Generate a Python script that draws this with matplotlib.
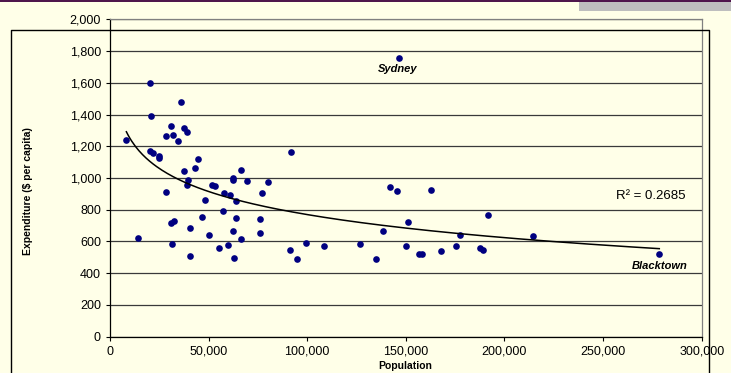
import numpy as np
import matplotlib
matplotlib.use("Agg")
from matplotlib import pyplot as plt
from matplotlib.lines import Line2D
from matplotlib.patches import Rectangle
from matplotlib.ticker import FuncFormatter, MultipleLocator

plt.rcParams["font.family"] = ["Liberation Sans", "DejaVu Sans"]

# council population vs expenditure ($ per capita)
population = [
    20300, 35800, 21000, 30700, 37500, 39200, 28200, 32100, 34300, 8300,
    20300, 22000, 24700, 25000, 91900, 44400, 43300, 37300, 39500, 38800,
    66500, 62300, 62500, 69700, 80000, 51500, 53200, 28600, 57600, 61000,
    77000, 48100, 63800, 57100, 46600, 63700, 75800, 32400, 31100, 40500,
    50300, 62300, 75800, 14000, 31300, 60000, 66200, 55100, 40400, 62800,
    91400, 94900, 146400, 141800, 145500, 162800, 191400, 150900, 138600, 177400,
    99600, 108700, 126500, 135100, 149900, 156800, 158000, 167800, 175400, 187400,
    189100, 214700, 278500,
]
expenditure = [
    1601, 1482, 1392, 1325, 1316, 1293, 1264, 1274, 1233, 1239,
    1167, 1157, 1136, 1123, 1165, 1121, 1063, 1044, 989, 958,
    1050, 998, 985, 981, 972, 956, 950, 914, 906, 891,
    907, 863, 853, 794, 757, 748, 742, 729, 719, 685,
    641, 668, 654, 625, 585, 580, 614, 560, 511, 497,
    547, 492, 1755, 941, 920, 922, 767, 723, 664, 643,
    589, 572, 587, 490, 570, 524, 524, 541, 570, 562,
    549, 637, 524,
]
r2_text = "R² = 0.2685"

BG = "#FFFFE8"
W, H = 731, 373

pop = np.array(population, dtype=float)
exp_ = np.array(expenditure, dtype=float)

fig = plt.figure(figsize=(W / 100, H / 100), dpi=100, facecolor=BG)
ax = fig.add_axes([110 / W, (H - 336.7) / H, (701.7 - 110) / W, (336.7 - 19.3) / H])
ax.set_facecolor(BG)

ax.set_xlim(0, 300000)
ax.set_ylim(0, 2000)
ax.xaxis.set_major_locator(MultipleLocator(50000))
ax.yaxis.set_major_locator(MultipleLocator(200))
comma = FuncFormatter(lambda v, p: f"{int(v):,}")
ax.xaxis.set_major_formatter(comma)
ax.yaxis.set_major_formatter(comma)
ax.tick_params(direction="out", length=3, width=0.8, pad=3.5, labelsize=9, colors="black")
ax.grid(axis="y", color="#3a3a3a", lw=0.9)
ax.set_axisbelow(True)
for s in ["top", "right"]:
    ax.spines[s].set_color("#808080")
    ax.spines[s].set_linewidth(0.9)
for s in ["left", "bottom"]:
    ax.spines[s].set_color("black")
    ax.spines[s].set_linewidth(0.9)

ax.plot(pop, exp_, "o", color="#000080", ms=4.8, mec="none", zorder=3)

# logarithmic trendline fitted to the data
a, b = np.polyfit(np.log(pop), exp_, 1)
xt = np.linspace(pop.min(), pop.max(), 300)
ax.plot(xt, a * np.log(xt) + b, color="black", lw=1.1, zorder=4)

ax.text(292000, 884, r2_text, ha="right", va="center", fontsize=9.5)

i_syd = int(np.argmax(exp_))
i_blk = int(np.argmax(pop))
ax.annotate("Sydney", (pop[i_syd], exp_[i_syd]), xytext=(-1, -8), textcoords="offset points",
            ha="center", va="center", fontsize=8, fontweight="bold", fontstyle="italic")
ax.annotate("Blacktown", (pop[i_blk], exp_[i_blk]), xytext=(0, -9), textcoords="offset points",
            ha="center", va="center", fontsize=8, fontweight="bold", fontstyle="italic")

fig.text(28 / W, (H - 191) / H, "Expenditure ($ per capita)", rotation=90,
         ha="center", va="center", fontsize=7.5, fontweight="bold")
fig.text(405 / W, (H - 366) / H, "Population", ha="center", va="center",
         fontsize=7.5, fontweight="bold")

# slide decorations: outer frame, top band and grey tab
def px_line(xs, ys, **kw):
    fig.add_artist(Line2D([x / W for x in xs], [(H - y) / H for y in ys],
                          transform=fig.transFigure, **kw))

px_line([11, 11, 708.7, 708.7], [H + 5, 29.5, 29.5, H + 5], color="black", lw=1, zorder=10)
fig.add_artist(Rectangle((579 / W, (H - 10.7) / H), (W - 579) / W, 9.5 / H,
                         transform=fig.transFigure, color="#BEBEBE", lw=0, zorder=9))
px_line([0, W], [0.8, 0.8], color="#4B1048", lw=1.4, zorder=11)

fig.savefig("out.png", dpi=100, facecolor=BG)
